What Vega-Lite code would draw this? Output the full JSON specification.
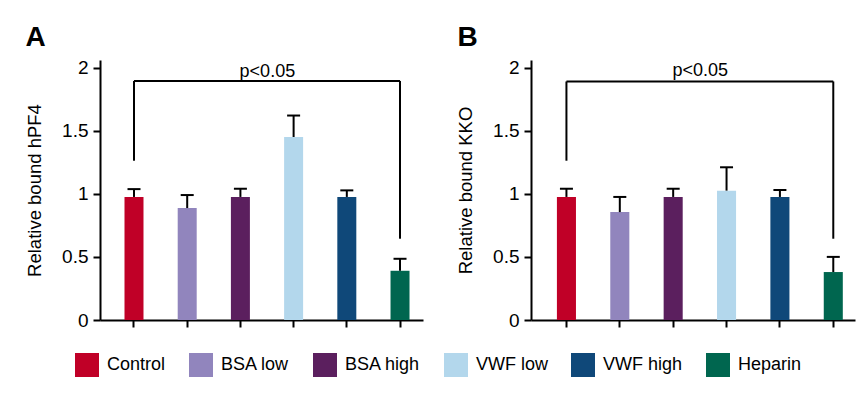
{
  "$schema": "https://vega.github.io/schema/vega-lite/v6.json",
  "padding": {"left": 25, "top": 23, "right": 2, "bottom": 5},
  "background": "white",
  "config": {
    "font": "Liberation Sans",
    "view": {"stroke": null},
    "axis": {"domainColor": "black", "domainWidth": 2, "tickColor": "black", "tickWidth": 2, "tickSize": 7, "labelColor": "black", "titleColor": "black", "grid": false, "labelFontSize": 19, "titleFontSize": 18.5, "titleFontWeight": "normal"},
    "title": {"color": "black"}
  },
  "datasets": {
    "bars": [
      {"panel": "A", "group": "Control", "value": 0.975, "err": 1.037},
      {"panel": "A", "group": "BSA low", "value": 0.887, "err": 0.99},
      {"panel": "A", "group": "BSA high", "value": 0.975, "err": 1.04},
      {"panel": "A", "group": "VWF low", "value": 1.45, "err": 1.62},
      {"panel": "A", "group": "VWF high", "value": 0.975, "err": 1.027},
      {"panel": "A", "group": "Heparin", "value": 0.39, "err": 0.485},
      {"panel": "B", "group": "Control", "value": 0.975, "err": 1.04},
      {"panel": "B", "group": "BSA low", "value": 0.855, "err": 0.975},
      {"panel": "B", "group": "BSA high", "value": 0.975, "err": 1.04},
      {"panel": "B", "group": "VWF low", "value": 1.025, "err": 1.21},
      {"panel": "B", "group": "VWF high", "value": 0.975, "err": 1.03},
      {"panel": "B", "group": "Heparin", "value": 0.38, "err": 0.5}
    ],
    "legs": [
      {"panel": "A", "group": "Control", "low": 1.262, "high": 1.894},
      {"panel": "A", "group": "Heparin", "low": 0.644, "high": 1.894},
      {"panel": "B", "group": "Control", "low": 1.262, "high": 1.89},
      {"panel": "B", "group": "Heparin", "low": 0.644, "high": 1.89}
    ],
    "spans": [
      {"panel": "A", "from": "Control", "to": "Heparin", "level": 1.894},
      {"panel": "B", "from": "Control", "to": "Heparin", "level": 1.89}
    ],
    "notes": [
      {"panel": "A", "anchor": "BSA high", "text": "p<0.05", "level": 1.925},
      {"panel": "B", "anchor": "BSA high", "text": "p<0.05", "level": 1.935}
    ]
  },
  "spacing": 33,
  "resolve": {"scale": {"color": "shared"}},
  "hconcat": [
    {
      "width": 323,
      "height": 260,
      "title": {"text": "A", "anchor": "start", "frame": "bounds", "fontSize": 28, "fontWeight": "bold", "offset": 7, "dx": 0},
      "layer": [
        {
          "data": {"name": "bars"},
          "transform": [{"filter": "datum.panel == 'A'"}],
          "mark": {"type": "bar"},
          "encoding": {
            "x": {"field": "group", "type": "nominal", "scale": {"domain": ["Control", "BSA low", "BSA high", "VWF low", "VWF high", "Heparin"], "paddingInner": 0.643, "paddingOuter": 0.357, "align": 0.645}, "axis": {"title": null, "labels": false}},
            "y": {"field": "value", "type": "quantitative", "scale": {"domain": [0, 2.06], "nice": false}, "axis": {"values": [0, 0.5, 1, 1.5, 2], "format": "~g", "title": "Relative bound hPF4", "labelPadding": 5, "titlePadding": 17}},
            "color": {"field": "group", "type": "nominal", "scale": {"domain": ["Control", "BSA low", "BSA high", "VWF low", "VWF high", "Heparin"], "range": ["#c00027", "#9185bd", "#5b1f5e", "#b3d7ec", "#0f4879", "#00664f"]}, "legend": {"orient": "none", "legendX": -25, "legendY": 293, "direction": "horizontal", "gridAlign": "none", "title": null, "symbolType": "square", "symbolSize": 576, "symbolStrokeWidth": 0, "symbolOpacity": 1, "labelFontSize": 18, "labelColor": "black", "labelOffset": 8, "columnPadding": 23, "padding": 0}}
          }
        },
        {
          "data": {"name": "bars"},
          "transform": [{"filter": "datum.panel == 'A'"}],
          "mark": {"type": "rule", "color": "black", "strokeWidth": 2},
          "encoding": {"x": {"field": "group", "type": "nominal"}, "y": {"field": "value", "type": "quantitative"}, "y2": {"field": "err"}}
        },
        {
          "data": {"name": "bars"},
          "transform": [{"filter": "datum.panel == 'A'"}],
          "mark": {"type": "tick", "color": "black", "thickness": 2, "size": 13, "opacity": 1},
          "encoding": {"x": {"field": "group", "type": "nominal"}, "y": {"field": "err", "type": "quantitative"}}
        },
        {
          "data": {"name": "legs"},
          "transform": [{"filter": "datum.panel == 'A'"}],
          "mark": {"type": "rule", "color": "black", "strokeWidth": 2},
          "encoding": {"x": {"field": "group", "type": "nominal"}, "y": {"field": "low", "type": "quantitative"}, "y2": {"field": "high"}}
        },
        {
          "data": {"name": "spans"},
          "transform": [{"filter": "datum.panel == 'A'"}],
          "mark": {"type": "rule", "color": "black", "strokeWidth": 2},
          "encoding": {"x": {"field": "from", "type": "nominal"}, "x2": {"field": "to"}, "y": {"field": "level", "type": "quantitative"}}
        },
        {
          "data": {"name": "notes"},
          "transform": [{"filter": "datum.panel == 'A'"}],
          "mark": {"type": "text", "fontSize": 18, "align": "center", "baseline": "alphabetic", "color": "black"},
          "encoding": {"x": {"field": "anchor", "type": "nominal", "bandPosition": 1.92}, "y": {"field": "level", "type": "quantitative"}, "text": {"field": "text"}}
        }
      ]
    },
    {
      "width": 324,
      "height": 260,
      "title": {"text": "B", "anchor": "start", "frame": "bounds", "fontSize": 28, "fontWeight": "bold", "offset": 7, "dx": 1},
      "layer": [
        {
          "data": {"name": "bars"},
          "transform": [{"filter": "datum.panel == 'B'"}],
          "mark": {"type": "bar"},
          "encoding": {
            "x": {"field": "group", "type": "nominal", "scale": {"domain": ["Control", "BSA low", "BSA high", "VWF low", "VWF high", "Heparin"], "paddingInner": 0.643, "paddingOuter": 0.357, "align": 0.68}, "axis": {"title": null, "labels": false}},
            "y": {"field": "value", "type": "quantitative", "scale": {"domain": [0, 2.06], "nice": false}, "axis": {"values": [0, 0.5, 1, 1.5, 2], "format": "~g", "title": "Relative bound KKO", "labelPadding": 5, "titlePadding": 17}},
            "color": {"field": "group", "type": "nominal", "scale": {"domain": ["Control", "BSA low", "BSA high", "VWF low", "VWF high", "Heparin"], "range": ["#c00027", "#9185bd", "#5b1f5e", "#b3d7ec", "#0f4879", "#00664f"]}, "legend": {"orient": "none", "legendX": -25, "legendY": 293, "direction": "horizontal", "gridAlign": "none", "title": null, "symbolType": "square", "symbolSize": 576, "symbolStrokeWidth": 0, "symbolOpacity": 1, "labelFontSize": 18, "labelColor": "black", "labelOffset": 8, "columnPadding": 23, "padding": 0}}
          }
        },
        {
          "data": {"name": "bars"},
          "transform": [{"filter": "datum.panel == 'B'"}],
          "mark": {"type": "rule", "color": "black", "strokeWidth": 2},
          "encoding": {"x": {"field": "group", "type": "nominal"}, "y": {"field": "value", "type": "quantitative"}, "y2": {"field": "err"}}
        },
        {
          "data": {"name": "bars"},
          "transform": [{"filter": "datum.panel == 'B'"}],
          "mark": {"type": "tick", "color": "black", "thickness": 2, "size": 13, "opacity": 1},
          "encoding": {"x": {"field": "group", "type": "nominal"}, "y": {"field": "err", "type": "quantitative"}}
        },
        {
          "data": {"name": "legs"},
          "transform": [{"filter": "datum.panel == 'B'"}],
          "mark": {"type": "rule", "color": "black", "strokeWidth": 2},
          "encoding": {"x": {"field": "group", "type": "nominal"}, "y": {"field": "low", "type": "quantitative"}, "y2": {"field": "high"}}
        },
        {
          "data": {"name": "spans"},
          "transform": [{"filter": "datum.panel == 'B'"}],
          "mark": {"type": "rule", "color": "black", "strokeWidth": 2},
          "encoding": {"x": {"field": "from", "type": "nominal"}, "x2": {"field": "to"}, "y": {"field": "level", "type": "quantitative"}}
        },
        {
          "data": {"name": "notes"},
          "transform": [{"filter": "datum.panel == 'B'"}],
          "mark": {"type": "text", "fontSize": 18, "align": "center", "baseline": "alphabetic", "color": "black"},
          "encoding": {"x": {"field": "anchor", "type": "nominal", "bandPosition": 1.92}, "y": {"field": "level", "type": "quantitative"}, "text": {"field": "text"}}
        }
      ]
    }
  ]
}
